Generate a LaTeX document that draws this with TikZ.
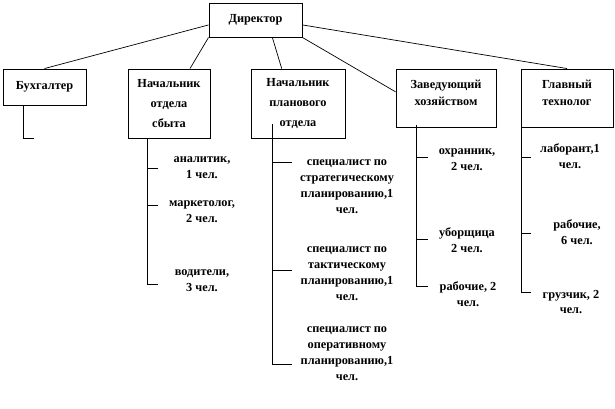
\documentclass[tikz,border=0pt]{standalone}
\usepackage{fontspec}
\setmainfont{Liberation Serif}
\usepackage{tikz}

\newlength\pxl
\setlength\pxl{0.03cm}

\begin{document}
\begin{tikzpicture}[x=0.03cm, y=-0.03cm,
        post/.style={rectangle, draw, line width=0.8pt, inner sep=1pt, align=center,
            font=\fontsize{10.5}{17}\selectfont\bfseries},
        staff/.style={align=center, inner sep=0pt,
            font=\fontsize{10.5}{13.6}\selectfont\bfseries},
        link/.style={line width=0.6pt},
        branch/.style={line width=0.8pt}
    ]
        \useasboundingbox (0,0) rectangle (615,408);

        % posts
        \node[post, minimum width=93\pxl, minimum height=34\pxl] (dir) at (255.5,20) {Директор};
        \node[post, minimum width=83\pxl, minimum height=36\pxl] (buh) at (44.5,87) {Бухгалтер};
        \node[post, minimum width=82\pxl, minimum height=69\pxl] (sbyt) at (169,103.5) {Начальник\\отдела\\сбыта};
        \node[post, minimum width=94\pxl, minimum height=69\pxl] (plan) at (298,103.5) {Начальник\\планового\\отдела};
        \node[post, minimum width=100\pxl, minimum height=58\pxl, text depth=9pt,
              font=\fontsize{10.5}{15}\selectfont\bfseries] (zav) at (446,98) {Заведующий\\хозяйством};
        \node[post, minimum width=92\pxl, minimum height=58\pxl, text depth=9pt,
              font=\fontsize{10.5}{15}\selectfont\bfseries] (glav) at (567,98) {Главный\\технолог};

        \draw[link] (dir.186) -- (buh.north);
        \draw[link] (dir.south west) -- (sbyt.59);
        \draw[link] (dir.-46) -- (plan.115);
        \draw[link] (dir.south east) -- (zav.173);
        \draw[link] (dir.-6) -- (glav.north);

        % staff
        \node[staff] (analit) at (202,168) {аналитик,\\1 чел.};
        \node[staff] (market) at (202,212) {маркетолог,\\2 чел.};
        \node[staff] (vodit) at (202,281) {водители,\\3 чел.};

        \node[staff] (strat) at (347,187) {специалист по\\стратегическому\\планированию,1\\чел.};
        \node[staff] (takt) at (347,274) {специалист по\\тактическому\\планированию,1\\чел.};
        \node[staff] (oper) at (347,354) {специалист по\\оперативному\\планированию,1\\чел.};

        \node[staff] (ohran) at (467,160) {охранник,\\2 чел.};
        \node[staff] (uborsh) at (467,240) {уборщица\\2 чел.};
        \node[staff] (rabz) at (468,294) {рабочие, 2\\чел.};

        \node[staff] (labor) at (570,156) {лаборант,1\\чел.};
        \node[staff] (rabg) at (577,232) {рабочие,\\6 чел.};
        \node[staff] (gruz) at (571,302) {грузчик, 2\\чел.};

        % branches
        \coordinate (b0) at (23,105);
        \coordinate (b1) at (34,138);
        \draw[branch] (b0) |- (b1);

        \coordinate (s0) at (147,138);
        \coordinate (s1) at (158,168);
        \coordinate (s2) at (158,205);
        \coordinate (s3) at (158,284);
        \draw[branch] (s0) |- (s3);
        \draw[branch] (s0 |- s1) -- (s1);
        \draw[branch] (s0 |- s2) -- (s2);

        \coordinate (p0) at (272,124);
        \coordinate (p1) at (292,162);
        \coordinate (p2) at (292,270);
        \coordinate (p3) at (292,364);
        \draw[branch] (p0) |- (p3);
        \draw[branch] (p0 |- p1) -- (p1);
        \draw[branch] (p0 |- p2) -- (p2);

        \coordinate (z0) at (416,125);
        \coordinate (z1) at (428,157);
        \coordinate (z2) at (428,239);
        \coordinate (z3) at (428,286);
        \draw[branch] (z0) |- (z3);
        \draw[branch] (z0 |- z1) -- (z1);
        \draw[branch] (z0 |- z2) -- (z2);

        \coordinate (g0) at (521,127);
        \coordinate (g1) at (531,157);
        \coordinate (g2) at (531,233);
        \coordinate (g3) at (531,292);
        \draw[branch] (g0) |- (g3);
        \draw[branch] (g0 |- g1) -- (g1);
        \draw[branch] (g0 |- g2) -- (g2);
    \end{tikzpicture}
\end{document}
